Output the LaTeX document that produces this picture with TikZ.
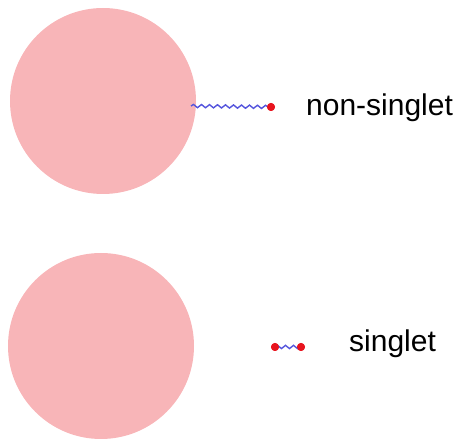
\documentclass[tikz,border=0pt]{standalone}
\usepackage{fontspec}
\setmainfont{Liberation Sans}
\usetikzlibrary{decorations.pathmorphing}
\definecolor{blob}{HTML}{F8B5B8}
\definecolor{wig}{HTML}{5555DD}
\definecolor{dotred}{HTML}{E8141E}

\begin{document}
\begin{tikzpicture}[x=1pt,y=1pt,
  blobn/.style={circle,fill=blob,inner sep=0pt,minimum size=186pt},
  dotn/.style={circle,fill=dotred,inner sep=0pt,minimum size=8pt},
  lab/.style={anchor=base west,inner sep=0pt,font=\fontsize{30}{36}\selectfont},
  wavy/.style={wig,line width=1.4pt,decorate,
               decoration={snake,segment length=8pt,amplitude=1.6pt}}]
\useasboundingbox (0,0) rectangle (459,439);

% non-singlet
\node[blobn] (top) at (103,338) {};
\coordinate (wa) at (191,333);
\node[dotn] (d0) at (271,332) {};
\draw[wavy] (wa) -- (d0.center);
\node[dotn] at (d0) {};
\node[lab] (l1) at (306,323) {non-singlet};

% singlet
\node[blobn] (bot) at (101,93) {};
\node[dotn] (d1) at (275,92) {};
\node[dotn] (d2) at (301,92) {};
\draw[wavy] (d1.center) -- (d2.center);
\node[dotn] at (d1) {};
\node[dotn] at (d2) {};
\node[lab] (l2) at (349,87) {singlet};
\end{tikzpicture}
\end{document}
